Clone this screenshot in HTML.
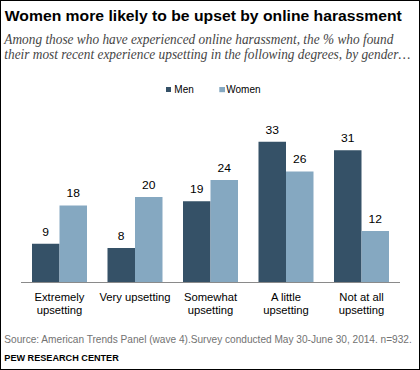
<!DOCTYPE html>
<html><head><meta charset="utf-8"><style>
html,body{margin:0;padding:0;background:#fff;}
body{width:420px;height:370px;overflow:hidden;position:relative;}
svg{position:absolute;left:0;top:0;}
text{font-family:"Liberation Sans",sans-serif;}
.t{font-weight:bold;font-size:14.8px;fill:#000;}
.s{font-family:"Liberation Serif",serif;font-style:italic;font-size:13.8px;fill:#454545;}
.lg{font-size:10px;fill:#000;}
.dl{font-size:11.5px;fill:#000;text-anchor:middle;}
.cl{font-size:10.7px;fill:#000;text-anchor:middle;}
.src{font-size:10.1px;fill:#727272;}
.pew{font-size:9.5px;font-weight:bold;fill:#000;}
</style></head><body>
<svg width="420" height="370" viewBox="0 0 420 370">
<rect x="0.5" y="0.5" width="419" height="369" fill="#fff" stroke="#000" stroke-width="1"/>
<text class="t" x="4.8" y="21.3" textLength="397" lengthAdjust="spacingAndGlyphs">Women more likely to be upset by online harassment</text>
<text class="s" x="4.3" y="43.8" textLength="389" lengthAdjust="spacingAndGlyphs">Among those who have experienced online harassment, the % who found</text>
<text class="s" x="4.3" y="58.6" textLength="406" lengthAdjust="spacingAndGlyphs">their most recent experience upsetting in the following degrees, by gender…</text>
<rect x="166" y="87" width="5" height="5" fill="#355167"/>
<text class="lg" x="174.3" y="92.9">Men</text>
<rect x="219.3" y="87" width="5.7" height="5.2" fill="#85a8c1"/>
<text class="lg" x="226.3" y="92.9">Women</text>
<rect x="32.00" y="243.75" width="27.5" height="38.25" fill="#355167"/>
<rect x="59.50" y="205.50" width="27.5" height="76.50" fill="#85a8c1"/>
<text class="dl" x="45.75" y="235.55" textLength="6.72" lengthAdjust="spacingAndGlyphs">9</text>
<text class="dl" x="73.25" y="197.30" textLength="13.43" lengthAdjust="spacingAndGlyphs">18</text>
<text class="cl" x="59.50" y="300.8" textLength="49.94" lengthAdjust="spacingAndGlyphs">Extremely</text>
<text class="cl" x="59.50" y="314.2" textLength="45.60" lengthAdjust="spacingAndGlyphs">upsetting</text>
<rect x="107.50" y="248.00" width="27.5" height="34.00" fill="#355167"/>
<rect x="135.00" y="197.00" width="27.5" height="85.00" fill="#85a8c1"/>
<text class="dl" x="121.25" y="239.80" textLength="6.72" lengthAdjust="spacingAndGlyphs">8</text>
<text class="dl" x="148.75" y="188.80" textLength="13.43" lengthAdjust="spacingAndGlyphs">20</text>
<text class="cl" x="135.00" y="300.8" textLength="71.20" lengthAdjust="spacingAndGlyphs">Very upsetting</text>
<rect x="183.00" y="201.25" width="27.5" height="80.75" fill="#355167"/>
<rect x="210.50" y="180.00" width="27.5" height="102.00" fill="#85a8c1"/>
<text class="dl" x="196.75" y="193.05" textLength="13.43" lengthAdjust="spacingAndGlyphs">19</text>
<text class="dl" x="224.25" y="171.80" textLength="13.43" lengthAdjust="spacingAndGlyphs">24</text>
<text class="cl" x="210.50" y="300.8" textLength="53.08" lengthAdjust="spacingAndGlyphs">Somewhat</text>
<text class="cl" x="210.50" y="314.2" textLength="45.60" lengthAdjust="spacingAndGlyphs">upsetting</text>
<rect x="258.50" y="141.75" width="27.5" height="140.25" fill="#355167"/>
<rect x="286.00" y="171.50" width="27.5" height="110.50" fill="#85a8c1"/>
<text class="dl" x="272.25" y="133.55" textLength="13.43" lengthAdjust="spacingAndGlyphs">33</text>
<text class="dl" x="299.75" y="163.30" textLength="13.43" lengthAdjust="spacingAndGlyphs">26</text>
<text class="cl" x="286.00" y="300.8" textLength="29.98" lengthAdjust="spacingAndGlyphs">A little</text>
<text class="cl" x="286.00" y="314.2" textLength="45.60" lengthAdjust="spacingAndGlyphs">upsetting</text>
<rect x="334.00" y="150.25" width="27.5" height="131.75" fill="#355167"/>
<rect x="361.50" y="231.00" width="27.5" height="51.00" fill="#85a8c1"/>
<text class="dl" x="347.75" y="142.05" textLength="13.43" lengthAdjust="spacingAndGlyphs">31</text>
<text class="dl" x="375.25" y="222.80" textLength="13.43" lengthAdjust="spacingAndGlyphs">12</text>
<text class="cl" x="361.50" y="300.8" textLength="44.34" lengthAdjust="spacingAndGlyphs">Not at all</text>
<text class="cl" x="361.50" y="314.2" textLength="45.60" lengthAdjust="spacingAndGlyphs">upsetting</text>
<rect x="21" y="282" width="379" height="1" fill="#8a8a8a"/>
<text class="src" x="4.3" y="343" textLength="407.5" lengthAdjust="spacingAndGlyphs">Source: American Trends Panel (wave 4).Survey conducted May 30-June 30, 2014. n=932.</text>
<text class="pew" x="4.3" y="360.5" textLength="114.5" lengthAdjust="spacingAndGlyphs">PEW RESEARCH CENTER</text>
</svg>
</body></html>
